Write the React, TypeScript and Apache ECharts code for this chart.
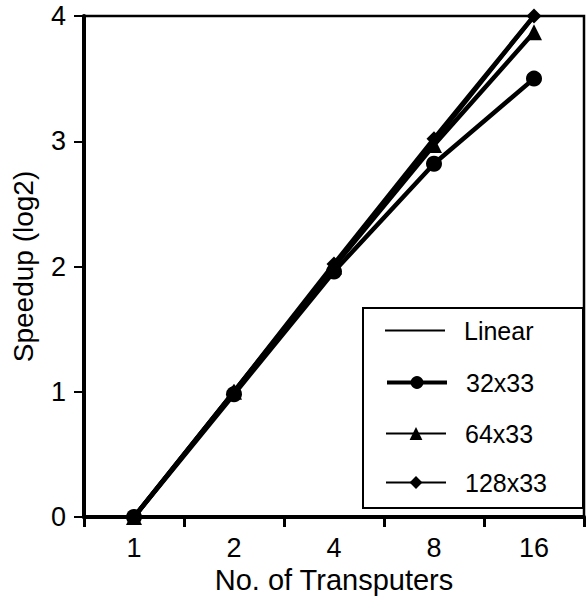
import React, { useEffect, useRef } from "react";
import * as echarts from "echarts";

const categories = ["1", "2", "4", "8", "16"];
const linear = [0, 1, 2, 3, 4];
const s32 = [0, 0.98, 1.96, 2.82, 3.5];
const s64 = [0, 1, 2, 2.97, 3.87];
const s128 = [0, 1, 2.02, 3.02, 4];
const legendNames = ["Linear", "32x33", "64x33", "128x33"];

const FONT = "Liberation Sans";

export default function App() {
  const ref = useRef<HTMLDivElement>(null);
  useEffect(() => {
    const chart = echarts.init(ref.current!, null, { renderer: "svg" });
    const mk = (name: string, data: number[], symbol: string, size: number, width: number) => ({
      name,
      type: "line",
      data,
      symbol,
      symbolSize: size,
      showSymbol: symbol !== "none",
      lineStyle: { color: "#000", width },
      itemStyle: { color: "#000" },
      z: 3,
    });
    const legendCenters = [333, 385, 436, 485];
    const legendWidths = [2, 4, 2, 2];
    const legends = legendNames.map((n, i) => ({
      left: 385,
      top: legendCenters[i] - 15,
      itemWidth: 60,
      itemHeight: 16,
      padding: 0,
      textStyle: { fontFamily: FONT, fontSize: 25, color: "#000", padding: [0, 0, 0, 14] },
      data: [
        i === 0
          ? { name: n, icon: "path://M0,0 L60,0 L60,2 L0,2 Z", itemStyle: { color: "#000" } }
          : { name: n, lineStyle: { width: legendWidths[i], color: "#000" } },
      ],
    }));
    chart.setOption({
      animation: false,
      backgroundColor: "#fff",
      grid: {
        left: 84,
        top: 16,
        right: 2,
        bottom: 86,
        show: true,
        borderColor: "#000",
        borderWidth: 2.5,
      },
      graphic: [
        {
          type: "rect",
          shape: { x: 363, y: 308, width: 220, height: 200 },
          style: { fill: "#fff", stroke: "#000", lineWidth: 2 },
          z: 10,
        },
      ],
      legend: legends.map((l) => ({ ...l, z: 20 })),
      xAxis: {
        type: "category",
        data: categories,
        boundaryGap: true,
        name: "No. of Transputers",
        nameLocation: "middle",
        nameGap: 48,
        nameTextStyle: { fontFamily: FONT, fontSize: 29, color: "#000" },
        axisLine: { lineStyle: { color: "#000", width: 4 } },
        axisTick: { show: true, length: 10, lineStyle: { color: "#000", width: 3 } },
        axisLabel: { fontFamily: FONT, fontSize: 27, color: "#000", margin: 17 },
      },
      yAxis: {
        type: "value",
        min: 0,
        max: 4,
        interval: 1,
        name: "Speedup (log2)",
        nameLocation: "middle",
        nameGap: 47,
        nameTextStyle: { fontFamily: FONT, fontSize: 28, color: "#000" },
        axisLine: { show: true, lineStyle: { color: "#000", width: 4 } },
        axisTick: { show: true, length: 10, lineStyle: { color: "#000", width: 2 } },
        axisLabel: { fontFamily: FONT, fontSize: 27, color: "#000", margin: 18 },
        splitLine: { show: false },
      },
      series: [
        mk("Linear", linear, "none", 0, 4),
        mk("32x33", s32, "circle", 16, 4.5),
        mk("64x33", s64, "triangle", 16, 4.5),
        mk("128x33", s128, "diamond", 15, 4.5),
      ],
    });
    return () => chart.dispose();
  }, []);
  return (
    <div
      ref={ref}
      style={{ position: "absolute", left: 0, top: 0, width: 586, height: 603 }}
    />
  );
}
